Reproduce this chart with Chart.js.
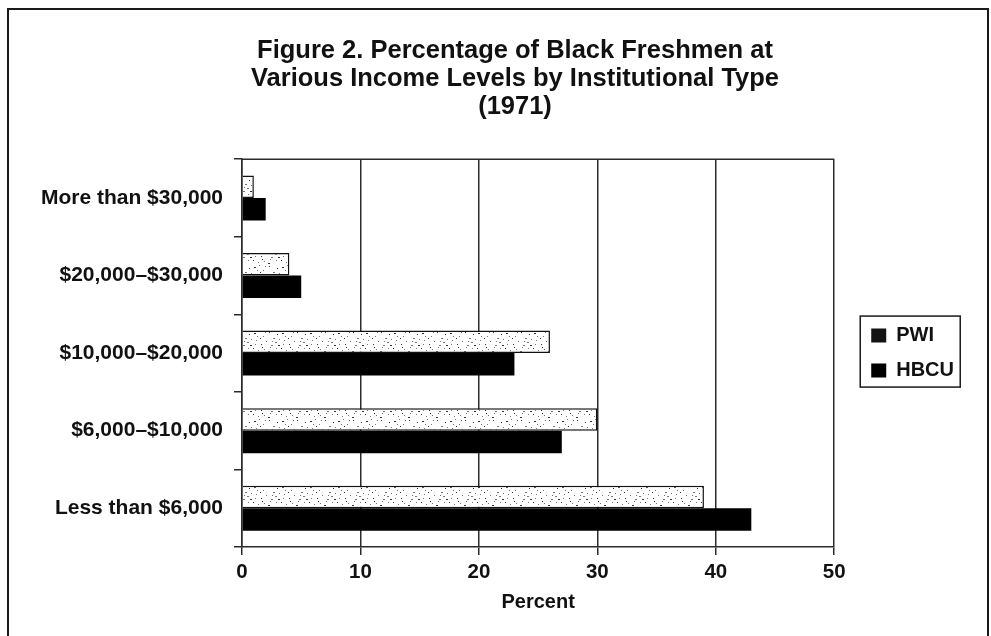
<!DOCTYPE html>
<html>
<head>
<meta charset="utf-8">
<script src="https://cdn.jsdelivr.net/npm/chart.js@4.4.1/dist/chart.umd.min.js"></script>
<style>
  html, body { margin: 0; padding: 0; background: #fff; }
  #wrap { width: 991px; height: 636px; position: relative; }
</style>
</head>
<body>
<div id="wrap"><canvas id="c" width="991" height="636"></canvas></div>
<script>
// Income brackets (top to bottom) and share of Black freshmen, 1971
const categories = ['More than $30,000', '$20,000\u2013$30,000', '$10,000\u2013$20,000', '$6,000\u2013$10,000', 'Less than $6,000'];
const pwiValues = [1, 4, 26, 30, 39];
const hbcuValues = [2, 5, 23, 27, 43];
const xTicks = [0, 10, 20, 30, 40, 50];
const titleLines = ['Figure 2. Percentage of Black Freshmen at', 'Various Income Levels by Institutional Type', '(1971)'];

const FONT = "'Liberation Sans', Arial, Helvetica, sans-serif";
const INK = '#111';
const LINE = '#2b2b2b';

// light speckled fill for the PWI bars
function stipple() {
  const c = document.createElement('canvas');
  c.width = 28; c.height = 22;
  const g = c.getContext('2d');
  g.fillStyle = '#fff';
  g.fillRect(0, 0, c.width, c.height);
  const dots = [[2,3],[7,1],[11,6],[17,2],[21,8],[4,10],[9,14],[14,11],[19,15],[1,18],[6,20],[12,19],[16,21],[24,18],[3,14],[25,4],[23,12],[13,2],[8,8],[18,17],[27,9],[10,17],[5,6],[20,11],[26,15]];
  dots.forEach(([x, y], i) => {
    g.fillStyle = i % 3 === 0 ? '#333' : '#777';
    g.fillRect(x, y, i % 4 === 0 ? 2 : 1, 1);
  });
  return g.createPattern(c, 'repeat');
}

// outer frame, plot box top edge, legend box outline
const decor = {
  id: 'decor',
  beforeDraw(chart) {
    const ctx = chart.ctx;
    ctx.save();
    ctx.fillStyle = '#fff';
    ctx.fillRect(0, 0, chart.width, chart.height);
    ctx.strokeStyle = '#1a1a1a';
    ctx.lineWidth = 2;
    ctx.beginPath();
    ctx.moveTo(8, chart.height);
    ctx.lineTo(8, 9);
    ctx.lineTo(988, 9);
    ctx.lineTo(988, chart.height);
    ctx.stroke();
    ctx.restore();
  },
  afterLayout(chart) {
    // push the legend a little away from the plot box
    const lg = chart.legend;
    lg.left += 22;
    lg.right += 22;
    // centre the heading over the figure rather than the canvas
    const tb = chart.titleBlock;
    tb.left += 24;
    tb.right += 24;
  },
  afterDraw(chart) {
    const ctx = chart.ctx;
    const a = chart.chartArea;
    ctx.save();
    ctx.strokeStyle = LINE;
    ctx.lineWidth = 1.5;
    ctx.beginPath();
    ctx.moveTo(a.left, a.top);
    ctx.lineTo(a.right, a.top);
    ctx.stroke();
    const lg = chart.legend;
    const pad = lg.options.labels.padding;
    const bx = lg.left + pad - 11;
    const cy = (a.top + a.bottom) / 2;
    ctx.strokeStyle = '#1a1a1a';
    ctx.strokeRect(bx, cy - 37, 100, 71);
    ctx.restore();
  }
};

new Chart(document.getElementById('c'), {
  type: 'bar',
  data: {
    labels: categories,
    datasets: [
      { label: 'PWI', data: pwiValues, backgroundColor: stipple(), borderColor: INK, borderWidth: 1.5,
        barPercentage: 1, categoryPercentage: 0.58 },
      { label: 'HBCU', data: hbcuValues, backgroundColor: '#000', borderColor: '#000', borderWidth: 0,
        barPercentage: 1, categoryPercentage: 0.58 }
    ]
  },
  options: {
    indexAxis: 'y',
    responsive: false,
    animation: false,
    events: [],
    layout: { padding: { top: 0, left: 40, right: 49, bottom: 0 } },
    plugins: {
      title: {
        display: true,
        text: titleLines,
        color: INK,
        font: { family: FONT, size: 25.5, weight: 'bold', lineHeight: 1.1 },
        padding: { top: 37, bottom: 38 }
      },
      legend: {
        position: 'right',
        fullSize: false,
        align: 'center',
        labels: {
          color: INK,
          font: { family: FONT, size: 20, weight: 'bold' },
          boxWidth: 15,
          boxHeight: 14,
          padding: 15,
          generateLabels(chart) {
            return chart.data.datasets.map((ds, i) => ({
              text: ds.label,
              fillStyle: i === 0 ? '#141414' : '#000',
              strokeStyle: '#000',
              lineWidth: 0,
              fontColor: INK,
              datasetIndex: i,
              hidden: false
            }));
          }
        }
      },
      tooltip: { enabled: false }
    },
    scales: {
      x: {
        min: 0,
        max: 50,
        afterBuildTicks(scale) { scale.ticks = xTicks.map(v => ({ value: v })); },
        afterFit(scale) { scale.height = 89; },
        grid: { color: LINE, lineWidth: 1.5, tickLength: 8, drawTicks: true },
        border: { color: LINE, width: 1.5 },
        ticks: { color: INK, padding: 5, font: { family: FONT, size: 20.5, weight: 'bold' } },
        title: {
          display: true,
          text: 'Percent',
          color: INK,
          font: { family: FONT, size: 20, weight: 'bold' },
          padding: { top: 4, bottom: 22 }
        }
      },
      y: {
        afterFit(scale) { scale.width = 202; },
        grid: { offset: true, drawOnChartArea: false, color: LINE, lineWidth: 1.5, tickLength: 8 },
        border: { color: LINE, width: 1.5 },
        ticks: { color: INK, padding: 11, font: { family: FONT, size: 21, weight: 'bold' } }
      }
    }
  },
  plugins: [decor]
});
</script>
</body>
</html>
